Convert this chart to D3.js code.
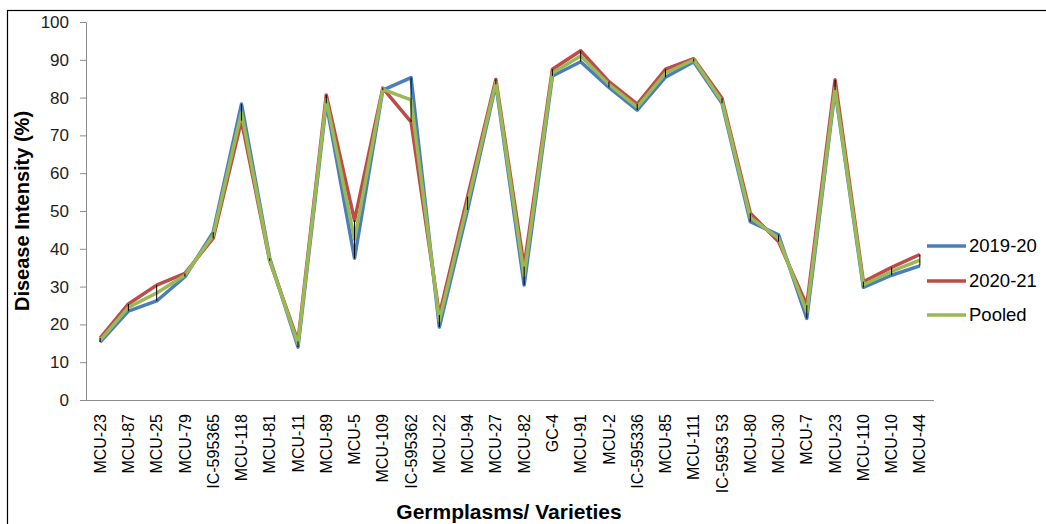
<!DOCTYPE html>
<html>
<head>
<meta charset="utf-8">
<script src="https://d3js.org/d3.v7.min.js"></script>
<style>
  body { margin: 0; background: #fff; }
  svg { display: block; font-family: "Liberation Sans", Arial, sans-serif; }
</style>
</head>
<body>
<div id="chart"></div>
<script>
// germplasms on the x axis
const germplasms = ["MCU-23", "MCU-87", "MCU-25", "MCU-79", "IC-595365", "MCU-118", "MCU-81", "MCU-11",
  "MCU-89", "MCU-5", "MCU-109", "IC-595362", "MCU-22", "MCU-94", "MCU-27", "MCU-82", "GC-4", "MCU-91",
  "MCU-2", "IC-595336", "MCU-85", "MCU-111", "IC-5953 53", "MCU-80", "MCU-30", "MCU-7", "MCU-23",
  "MCU-110", "MCU-10", "MCU-44"];

// disease intensity (%) per season
const y2019 = [15.3, 23.5, 26.2, 32.6, 44.4, 78.3, 37.5, 14.0, 78.5, 37.5, 82.0, 85.3, 19.3, 50.3, 83.5,
  30.4, 85.7, 89.5, 82.7, 76.7, 85.4, 89.5, 78.5, 47.2, 43.7, 21.6, 82.0, 29.8, 33.0, 35.5];
const y2020 = [16.4, 25.4, 30.4, 33.5, 42.8, 73.9, 36.8, 15.5, 80.7, 47.5, 82.5, 73.6, 22.5, 53.8, 84.8,
  35.3, 87.5, 92.4, 84.2, 78.3, 87.5, 90.3, 79.8, 49.4, 41.9, 25.1, 84.7, 31.3, 35.1, 38.5];
const pooled = [15.8, 24.5, 28.3, 33.0, 43.6, 76.0, 37.0, 14.8, 79.5, 42.5, 82.2, 79.4, 21.0, 52.0, 84.0,
  33.0, 86.5, 91.0, 83.5, 77.5, 86.5, 90.0, 79.0, 48.3, 42.8, 23.3, 82.5, 30.5, 34.0, 37.0];

const seriesNames = ["2019-20", "2020-21", "Pooled"];
const seriesColors = ["#4a7ebb", "#be4b48", "#98b954"];
const yTicks = [0, 10, 20, 30, 40, 50, 60, 70, 80, 90, 100];

const W = 1046, H = 524;
const margin = { top: 22, right: 112, bottom: 124, left: 86 };

const svg = d3.select("#chart").append("svg")
  .attr("width", W).attr("height", H);

// outer frame (only top and left visible)
svg.append("rect")
  .attr("x", 7.5).attr("y", 10.5)
  .attr("width", W + 10).attr("height", H + 10)
  .attr("fill", "none").attr("stroke", "#000").attr("stroke-width", 1.2);

const x = d3.scaleBand()
  .domain(d3.range(germplasms.length))
  .range([margin.left, W - margin.right]);

const y = d3.scaleLinear()
  .domain([0, 100])
  .range([H - margin.bottom, margin.top]);

// y axis
const yAxis = svg.append("g")
  .attr("transform", `translate(${margin.left},0)`)
  .call(d3.axisLeft(y).tickValues(yTicks).tickSize(6).tickPadding(11).tickSizeOuter(0));
yAxis.select(".domain").attr("stroke", "#8c8c8c");
yAxis.selectAll(".tick line").attr("stroke", "#8c8c8c");
yAxis.selectAll("text").style("font-size", "17px").attr("fill", "#222");

// x axis
const xAxis = svg.append("g")
  .attr("transform", `translate(0,${H - margin.bottom})`)
  .call(d3.axisBottom(x).tickSize(0).tickSizeOuter(0).tickFormat(i => germplasms[i]));
xAxis.select(".domain").attr("stroke", "#8c8c8c").attr("d", `M${margin.left - 6},0.5H${W - margin.right}`);
xAxis.selectAll("text")
  .style("font-size", "16px").attr("fill", "#000")
  .attr("transform", "rotate(-90)")
  .attr("text-anchor", "end")
  .attr("x", -14).attr("y", 0).attr("dy", "0.35em");

const cx = i => x(i) + x.bandwidth() / 2;

// series lines
const allSeries = [y2019, y2020, pooled];
const line = d3.line().x((d, i) => cx(i)).y(d => y(d));
allSeries.forEach((vals, k) => {
  svg.append("path")
    .datum(vals)
    .attr("fill", "none")
    .attr("stroke", seriesColors[k])
    .attr("stroke-width", 3.5)
    .attr("stroke-linejoin", "round")
    .attr("d", line);
});

// high-low lines
svg.append("g").selectAll("line")
  .data(germplasms.map((g, i) => i))
  .join("line")
  .attr("x1", i => cx(i)).attr("x2", i => cx(i))
  .attr("y1", i => y(d3.max(allSeries, s => s[i])))
  .attr("y2", i => y(d3.min(allSeries, s => s[i])))
  .attr("stroke", "#000").attr("stroke-width", 1);

// axis titles
svg.append("text")
  .attr("transform", `translate(29,${y(50)}) rotate(-90)`)
  .attr("text-anchor", "middle")
  .style("font-size", "20px").style("font-weight", "bold")
  .text("Disease Intensity (%)");

svg.append("text")
  .attr("x", 509).attr("y", 519)
  .attr("text-anchor", "middle")
  .style("font-size", "21px").style("font-weight", "bold")
  .text("Germplasms/ Varieties");

// legend
const legend = svg.append("g");
const legY = [246, 281, 315];
seriesNames.forEach((name, k) => {
  legend.append("line")
    .attr("x1", 927).attr("x2", 966)
    .attr("y1", legY[k]).attr("y2", legY[k])
    .attr("stroke", seriesColors[k]).attr("stroke-width", 3.5);
  legend.append("text")
    .attr("x", 969).attr("y", legY[k]).attr("dy", "0.35em")
    .style("font-size", "18.5px").attr("fill", "#000")
    .text(name);
});
</script>
</body>
</html>
